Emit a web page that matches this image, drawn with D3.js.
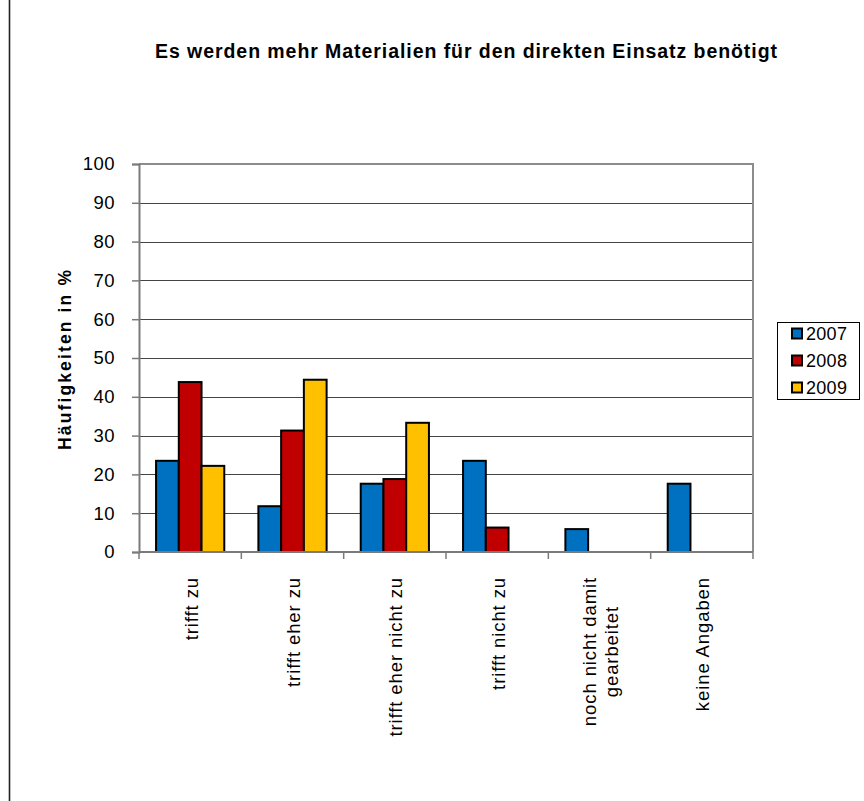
<!DOCTYPE html>
<html>
<head>
<meta charset="utf-8">
<script src="https://cdn.jsdelivr.net/npm/d3@7"></script>
<style>
  html, body { margin: 0; padding: 0; background: #fff; }
  svg { display: block; }
  text { font-family: Arial, "Liberation Sans", sans-serif; fill: #000; }
</style>
</head>
<body>
<svg id="chart" width="864" height="801"></svg>
<script>
// Survey answers, share of respondents in percent per year
const categories = [
  ["trifft zu"],
  ["trifft eher zu"],
  ["trifft eher nicht zu"],
  ["trifft nicht zu"],
  ["noch nicht damit", "gearbeitet"],
  ["keine Angaben"]
];
const years = ["2007", "2008", "2009"];
const values2007 = [23.5, 11.8, 17.6, 23.5, 5.9, 17.6];
const values2008 = [43.8, 31.3, 18.8, 6.3, 0, 0];
const values2009 = [22.2, 44.4, 33.3, 0, 0, 0];
const yTicks = [0, 10, 20, 30, 40, 50, 60, 70, 80, 90, 100];
const colors = ["#0070C0", "#C00000", "#FFC000"];

const title = "Es werden mehr Materialien für den direkten Einsatz benötigt";
const yTitle = "Häufigkeiten in %";

const series = [values2007, values2008, values2009];
const catKeys = categories.map(c => c.join(" "));

const svg = d3.select("#chart");

// outer frame line on the left side of the page
svg.append("line")
  .attr("x1", 9.5).attr("x2", 9.5).attr("y1", 0).attr("y2", 801)
  .attr("stroke", "#222").attr("stroke-width", 1.6);

const plot = { left: 139, right: 753, top: 164, bottom: 552 };

const x = d3.scaleBand().domain(catKeys).range([plot.left, plot.right]).padding(0);
const bw = x.bandwidth();
const xs = d3.scaleBand().domain(years).range([bw / 6, bw * 5 / 6]).padding(0);
const y = d3.scaleLinear().domain([0, 100]).range([plot.bottom, plot.top]);

// horizontal gridlines
svg.append("g")
  .selectAll("line")
  .data(yTicks.filter(t => t > 0 && t < 100))
  .join("line")
  .attr("x1", plot.left).attr("x2", plot.right)
  .attr("y1", d => Math.round(y(d)) + 0.5).attr("y2", d => Math.round(y(d)) + 0.5)
  .attr("stroke", "#444").attr("stroke-width", 1.2);

// plot area border (top and right)
svg.append("path")
  .attr("d", `M${plot.left},${plot.top}H${plot.right}V${plot.bottom}`)
  .attr("fill", "none").attr("stroke", "#8c8c8c").attr("stroke-width", 2);

// bars
const groups = svg.append("g")
  .selectAll("g")
  .data(catKeys)
  .join("g")
  .attr("transform", d => `translate(${x(d)},0)`);

groups.selectAll("rect")
  .data((d, i) => years.map((yr, j) => ({ yr, v: series[j][i], c: colors[j] })).filter(o => o.v > 0))
  .join("rect")
  .attr("x", d => xs(d.yr))
  .attr("width", xs.bandwidth())
  .attr("y", d => y(d.v))
  .attr("height", d => y(0) - y(d.v))
  .attr("fill", d => d.c)
  .attr("stroke", "#000")
  .attr("stroke-width", 2);

// y axis
const yAxis = svg.append("g")
  .attr("transform", `translate(${plot.left},0)`)
  .call(d3.axisLeft(y).tickValues(yTicks).tickSize(7).tickPadding(17).tickFormat(d3.format("d")));
yAxis.select(".domain").attr("stroke", "#7a7a7a").attr("stroke-width", 2);
yAxis.selectAll(".tick line").attr("stroke", "#7a7a7a").attr("stroke-width", 1.5);
yAxis.selectAll(".tick text")
  .attr("font-size", 18.5).attr("fill", "#000")
  .attr("font-family", "Arial, 'Liberation Sans', sans-serif")
  .style("letter-spacing", "0.5px");

// x axis with ticks on the category boundaries
const xAxisG = svg.append("g").attr("transform", `translate(0,${plot.bottom})`);
xAxisG.append("line")
  .attr("x1", plot.left).attr("x2", plot.right)
  .attr("stroke", "#7a7a7a").attr("stroke-width", 2);
const bounds = catKeys.map(k => x(k)).concat([plot.right]);
xAxisG.selectAll(".xt")
  .data(bounds)
  .join("line")
  .attr("class", "xt")
  .attr("x1", d => d).attr("x2", d => d)
  .attr("y1", 0).attr("y2", 7)
  .attr("stroke", "#7a7a7a").attr("stroke-width", 1.5);

// rotated category labels
const labelTop = 577;
const lineGap = 22;
categories.forEach((lines, i) => {
  const cx = x(catKeys[i]) + bw / 2;
  const t = svg.append("text")
    .attr("font-size", 18.5)
    .style("letter-spacing", "0.9px")
    .attr("text-anchor", "middle");
  lines.forEach((ln, k) => {
    t.append("tspan")
      .attr("x", 0)
      .attr("y", (k - (lines.length - 1) / 2) * lineGap)
      .attr("dy", "0.35em")
      .text(ln);
  });
  const maxLen = d3.max(t.selectAll("tspan").nodes(), n => n.getComputedTextLength());
  t.attr("transform", `translate(${cx + 1},${labelTop + maxLen / 2}) rotate(-90)`);
});

// chart title
svg.append("text")
  .attr("x", 466).attr("y", 58)
  .attr("text-anchor", "middle")
  .attr("font-size", 19.5)
  .attr("font-weight", "bold")
  .attr("textLength", 622)
  .attr("lengthAdjust", "spacing")
  .text(title);

// y axis title
svg.append("text")
  .attr("transform", "translate(71,360) rotate(-90)")
  .attr("text-anchor", "middle")
  .attr("font-size", 17.5)
  .attr("font-weight", "bold")
  .attr("textLength", 180)
  .attr("lengthAdjust", "spacing")
  .text(yTitle);

// legend
const legend = svg.append("g").attr("transform", "translate(777,322)");
legend.append("rect")
  .attr("x", 0.5).attr("y", 0.5).attr("width", 82).attr("height", 77)
  .attr("fill", "#fff").attr("stroke", "#000").attr("stroke-width", 1);
years.forEach((yr, j) => {
  const cy = 11.5 + j * 27;
  legend.append("rect")
    .attr("x", 15).attr("y", cy - 5)
    .attr("width", 10).attr("height", 10)
    .attr("fill", colors[j]).attr("stroke", "#000").attr("stroke-width", 2);
  legend.append("text")
    .attr("x", 29).attr("y", cy)
    .attr("dy", "0.36em")
    .attr("font-size", 18)
    .style("letter-spacing", "0.3px")
    .text(yr);
});
</script>
</body>
</html>
